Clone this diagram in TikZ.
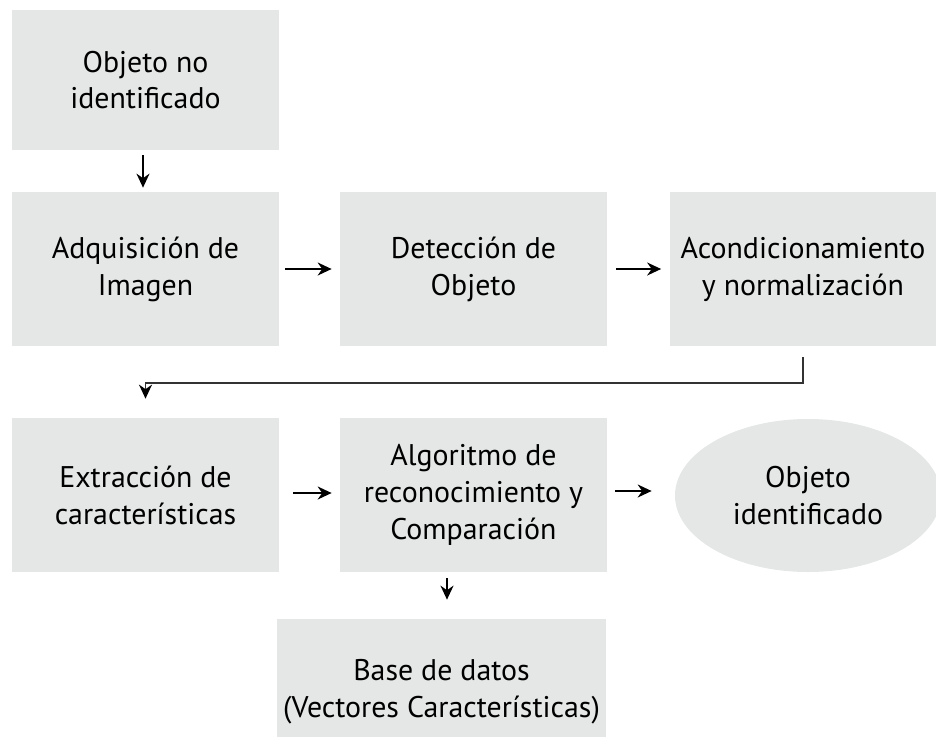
\documentclass[tikz,border=0pt]{standalone}
\usepackage{fontspec}
\setmainfont{PT Sans}
\usepackage{tikz}
\usetikzlibrary{positioning,calc,arrows.meta,shapes.geometric}

\definecolor{boxgray}{RGB}{228,231,230}
\definecolor{linegray}{RGB}{50,50,50}

\begin{document}
\begin{tikzpicture}[
    stage/.style={rectangle, fill=boxgray, minimum width=5.34cm, minimum height=3.08cm, align=center, font=\fontsize{17}{21}\selectfont},
    result/.style={ellipse, fill=boxgray, minimum width=5.32cm, minimum height=3.06cm, inner sep=0pt, align=center, font=\fontsize{17}{21}\selectfont},
    flow/.style={draw, line width=1.1pt, -{Stealth[length=2.8mm, width=2.6mm]}},
    link/.style={draw, line width=1.1pt, color=linegray, -{Stealth[length=2.8mm, width=2.6mm, color=black]}}
]

\useasboundingbox (0,0) rectangle (18.72,-14.74);
\clip (0,0) rectangle (18.72,-14.74);

% Define node positions
\node[stage, minimum height=2.80cm] (obj) at (2.91, -1.60) {Objeto no\\identificado};
\node[stage] (adq) at (2.91, -5.38) {Adquisición de\\Imagen};
\node[stage] (det) at (9.47, -5.38) {Detección de\\Objeto};
\node[stage] (aco) at (16.06, -5.38) {Acondicionamiento\\y normalización};
\node[stage] (ext) at (2.91, -9.90) {Extracción de\\características};
\node[stage] (alg) at (9.47, -9.90) {Algoritmo de\\reconocimiento y\\Comparación};
\node[result] (ident) at (16.16, -9.91) {Objeto\\identificado};
\node[stage, minimum width=6.58cm, minimum height=2.90cm] (base) at (8.83, -13.83) {Base de datos\\(Vectores Características)};

% Corner of the return line
\coordinate (turn) at (16.06, -7.66);

% Draw arrows
\draw[flow, shorten <=0.10cm, shorten >=0.08cm] ([xshift=-0.05cm]obj.south) -- ([xshift=-0.05cm]adq.north);
\draw[flow, shorten <=0.12cm, shorten >=0.16cm] (adq) -- (det);
\draw[flow, shorten <=0.18cm, shorten >=0.16cm] (det) -- (aco);
\draw[link, shorten >=0.38cm] ([yshift=-0.22cm]aco.south) -- (turn) -| (ext.north);
\draw[flow, shorten <=0.28cm, shorten >=0.16cm] ([yshift=0.04cm]ext.east) -- ([yshift=0.04cm]alg.west);
\draw[flow, shorten <=0.16cm, shorten >=0.46cm] ([yshift=0.08cm]alg.east) -- ([yshift=0.08cm]alg.east -| ident.west);
\draw[flow, shorten <=0.12cm, shorten >=0.38cm] ([xshift=-0.53cm]alg.south) -- ([xshift=-0.53cm]alg.south |- base.north);

\end{tikzpicture}
\end{document}
